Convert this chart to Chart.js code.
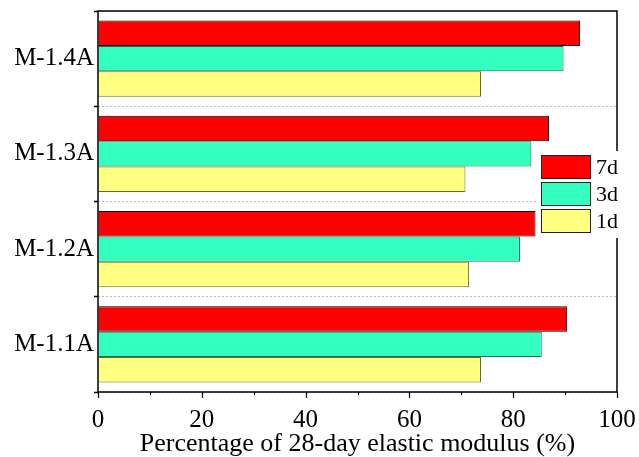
<!DOCTYPE html>
<html>
<head>
<meta charset="utf-8">
<script src="https://cdn.jsdelivr.net/npm/chart.js@4/dist/chart.umd.min.js"></script>
<style>
  html, body { margin: 0; padding: 0; background: #ffffff; }
  #wrap { width: 639px; height: 457px; }
</style>
</head>
<body>
<div id="wrap"><canvas id="c" width="639" height="457"></canvas></div>
<script>
// Mixes, listed top to bottom as drawn
const categories = ['M-1.4A', 'M-1.3A', 'M-1.2A', 'M-1.1A'];
// Percentage of the 28-day elastic modulus at each age
const age7d = [92.9, 86.9, 84.3, 90.4];
const age3d = [89.7, 83.5, 81.3, 85.5];
const age1d = [73.8, 70.8, 71.5, 73.8];
const seriesNames = ['7d', '3d', '1d'];
const xTickValues = [0, 20, 40, 60, 80, 100];
const xTitle = 'Percentage of 28-day elastic modulus (%)';

const SERIF = '"Liberation Serif", "Times New Roman", serif';
const fills = ['#ff0000', '#33ffbf', '#ffff80'];
const edges = ['#000000', '#1f6b52', '#6b6b2a'];

// Box frame, minor x ticks and the boxed legend on the right
const framePlugin = {
  id: 'frame',
  afterDraw(chart) {
    const { ctx, chartArea: a } = chart;
    const xs = chart.scales.x;
    ctx.save();
    ctx.strokeStyle = '#000';
    ctx.lineWidth = 1.5;
    ctx.beginPath();
    ctx.moveTo(a.left, a.top);
    ctx.lineTo(a.right, a.top);
    ctx.lineTo(a.right, a.bottom);
    ctx.lineTo(a.left, a.bottom);
    ctx.closePath();
    ctx.stroke();

    // major ticks (down) and minor ticks halfway between them
    ctx.lineWidth = 1.2;
    const vals = xs.ticks.map(t => t.value);
    ctx.beginPath();
    vals.forEach(v => {
      const px = Math.round(xs.getPixelForValue(v)) + 0.5;
      ctx.moveTo(px, a.bottom);
      ctx.lineTo(px, a.bottom + 6);
    });
    for (let i = 0; i < vals.length - 1; i++) {
      const px = Math.round(xs.getPixelForValue((vals[i] + vals[i + 1]) / 2)) + 0.5;
      ctx.moveTo(px, a.bottom);
      ctx.lineTo(px, a.bottom + 3);
    }
    ctx.stroke();

    // legend
    const lx = a.right - 76, ly = a.top + 144;
    ctx.fillStyle = '#ffffff';
    ctx.fillRect(lx - 4, ly - 4, 639 - (lx - 4), 87);
    chart.data.datasets.forEach((ds, i) => {
      const y = ly + i * 27;
      ctx.fillStyle = ds.backgroundColor;
      ctx.fillRect(lx, y, 50, 24);
      ctx.lineWidth = 1;
      ctx.strokeStyle = '#222';
      ctx.strokeRect(lx + 0.5, y + 0.5, 49, 23);
      ctx.fillStyle = '#000';
      ctx.font = '22px ' + SERIF;
      ctx.textBaseline = 'middle';
      ctx.textAlign = 'left';
      ctx.fillText(ds.label, lx + 55, y + 13);
    });
    ctx.restore();
  }
};

new Chart(document.getElementById('c'), {
  type: 'bar',
  data: {
    labels: categories,
    datasets: [age7d, age3d, age1d].map((d, i) => ({
      label: seriesNames[i],
      data: d,
      backgroundColor: fills[i],
      borderColor: edges[i],
      borderWidth: 1,
      barPercentage: 1,
      categoryPercentage: 0.8
    }))
  },
  options: {
    indexAxis: 'y',
    responsive: false,
    animation: false,
    layout: { padding: { top: 11, right: 22, left: 0, bottom: 0 } },
    plugins: {
      legend: { display: false },
      tooltip: { enabled: false }
    },
    scales: {
      x: {
        type: 'linear',
        min: 0,
        max: 100,
        afterBuildTicks(scale) { scale.ticks = xTickValues.map(v => ({ value: v })); },
        grid: { drawOnChartArea: false, drawTicks: false },
        border: { display: false },
        ticks: {
          color: '#000',
          font: { family: SERIF, size: 25 },
          padding: 13,
          maxRotation: 0
        },
        title: {
          display: true,
          text: xTitle,
          color: '#000',
          font: { family: SERIF, size: 26, lineHeight: 1 },
          padding: { top: 0, bottom: 0 }
        },
        afterFit(scale) {
          scale.height = 65;
          scale.paddingLeft = 0;
          scale.paddingRight = 0;
        }
      },
      y: {
        type: 'category',
        offset: true,
        grid: {
          offset: true,
          color: '#bdbdbd',
          lineWidth: 1,
          tickColor: '#000',
          tickWidth: 1.5,
          tickLength: 4,
          tickBorderDash: [],
          drawOnChartArea: true
        },
        border: { display: false, dash: [2, 2] },
        ticks: {
          color: '#000',
          font: { family: SERIF, size: 25 },
          padding: 0
        },
        afterFit(scale) {
          scale.width = 98;
          scale.paddingTop = 0;
          scale.paddingBottom = 0;
        }
      }
    }
  },
  plugins: [framePlugin]
});
</script>
</body>
</html>
